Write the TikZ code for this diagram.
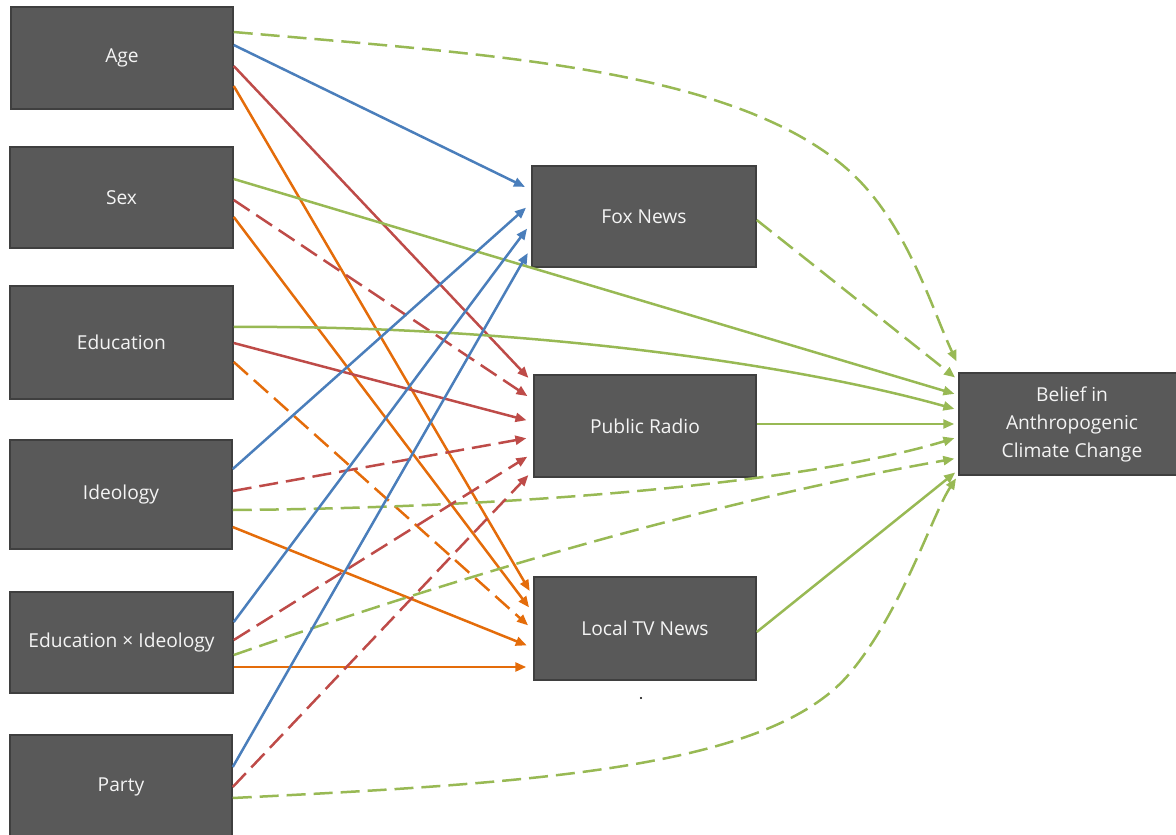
\documentclass[tikz,border=0pt]{standalone}
\usepackage{fontspec}
\setmainfont{Open Sans}
\usetikzlibrary{arrows.meta}
\definecolor{boxfill}{HTML}{595959}
\definecolor{boxline}{HTML}{3F3F3F}
\definecolor{boxtext}{HTML}{F4F4F4}
\definecolor{cblue}{HTML}{4A7EBB}
\definecolor{cred}{HTML}{BE4B48}
\definecolor{corange}{HTML}{E46C0A}
\definecolor{cgreen}{HTML}{98B954}
\newcommand{\boxfont}{\fontsize{19.2}{28}\selectfont}
\tikzset{
  box/.style={rectangle, fill=boxfill, draw=boxline, line width=1.5pt, text=boxtext,
    font=\boxfont, align=center, inner sep=0pt},
  con/.style={line width=2.5pt, -{Triangle[length=11pt,width=9pt]}},
  dsh/.style={dash pattern=on 19pt off 8pt},
  tomid/.style={shorten >=7pt},
  tobel/.style={shorten >=4pt},
}
\begin{document}
\begin{tikzpicture}[x=1pt,y=-1pt]
\useasboundingbox (0,0) rectangle (1176,835);
% left column
\node[box, minimum width=222pt, minimum height=102pt] (age)   at (122,58)    {Age};
\node[box, minimum width=223pt, minimum height=101pt] (sex)   at (121.5,197.5) {Sex};
\node[box, minimum width=223pt, minimum height=113pt] (edu)   at (121.5,342.5) {Education};
\node[box, minimum width=222pt, minimum height=109pt] (ideo)  at (121,494.5) {Ideology};
\node[box, minimum width=223pt, minimum height=101pt] (ei)    at (121.5,642.5) {Education × Ideology};
\node[box, minimum width=222pt, minimum height=104pt] (party) at (121,787)   {Party};
% middle column
\node[box, minimum width=224pt, minimum height=101pt] (fox)   at (644,216.5) {Fox News};
\node[box, minimum width=222pt, minimum height=102pt] (radio) at (645,426)   {Public Radio};
\node[box, minimum width=222pt, minimum height=103pt] (tv)    at (645,628.5) {Local TV News};
% outcome
\node[box, minimum width=226pt, minimum height=102pt] (belief) at (1072,424) {Belief in\\Anthropogenic\\Climate Change};
\fill[black] (641,698) circle (1.1);
% Age
\draw[con,dsh,cgreen,tobel] ([yshift=26]age.east) .. controls (483,54) and (720,67) .. (840,163)
   .. controls (905,215) and (930,305) .. ([yshift=59]belief.west);
\draw[con,cblue,tomid] ([yshift=13]age.east) -- ([yshift=26.5]fox.west);
\draw[con,cred,tomid] ([yshift=-8]age.east) -- ([yshift=43]radio.west);
\draw[con,corange,tomid] ([yshift=-28]age.east) -- ([yshift=31.5]tv.west);
% Sex
\draw[con,cgreen,tobel] ([yshift=18.5]sex.east) -- ([yshift=29]belief.west);
\draw[con,dsh,cred,tomid] ([yshift=-2.5]sex.east) -- ([yshift=26]radio.west);
\draw[con,corange,tomid] ([yshift=-19.5]sex.east) -- ([yshift=15.5]tv.west);
% Education
\draw[con,cgreen,tobel] ([yshift=15.5]edu.east) .. controls (500,325) and (780,360) .. ([yshift=14]belief.west);
\draw[con,cred,tomid] ([yshift=-0.5]edu.east) -- ([yshift=4]radio.west);
\draw[con,dsh,corange,tomid] ([yshift=-19.5]edu.east) -- ([yshift=-1.5]tv.west);
% Ideology
\draw[con,cblue,tomid] ([yshift=25.5]ideo.east) -- ([yshift=13.5]fox.west);
\draw[con,dsh,cred,tomid] ([yshift=3.5]ideo.east) -- ([yshift=-11]radio.west);
\draw[con,dsh,cgreen,tobel] ([yshift=-15.5]ideo.east) .. controls (500,508) and (800,485) .. ([yshift=-13]belief.west);
\draw[con,corange,tomid] ([yshift=-32.5]ideo.east) -- ([yshift=-19.5]tv.west);
% Education x Ideology
\draw[con,cblue,tomid] ([yshift=20.5]ei.east) -- ([yshift=-6.5]fox.west);
\draw[con,dsh,cred,tomid] ([yshift=2.5]ei.east) -- ([yshift=-27]radio.west);
\draw[con,dsh,cgreen,tobel] ([yshift=-12.5]ei.east) .. controls (473,572) and (715,501) .. ([yshift=-34]belief.west);
\draw[con,corange,tomid] ([yshift=-24.5]ei.east) -- ([yshift=-38.5]tv.west);
% Party
\draw[con,cblue,tomid] ([yshift=20]party.east) -- ([yshift=-30.5]fox.west);
\draw[con,dsh,cred,tomid] ([yshift=0]party.east) -- ([yshift=-44]radio.west);
\draw[con,dsh,cgreen,tobel] ([yshift=-11]party.east) .. controls (533,783) and (770,769) .. (850,673)
   .. controls (902,611) and (932,515) .. ([yshift=-51]belief.west);
% media -> belief
\draw[con,dsh,cgreen,tobel] ([yshift=-3.5]fox.east) -- ([yshift=44]belief.west);
\draw[con,cgreen,tobel] ([yshift=2]radio.east) -- ([yshift=0]belief.west);
\draw[con,cgreen,tobel] ([yshift=-3.5]tv.east) -- ([yshift=-46]belief.west);
\end{tikzpicture}
\end{document}
